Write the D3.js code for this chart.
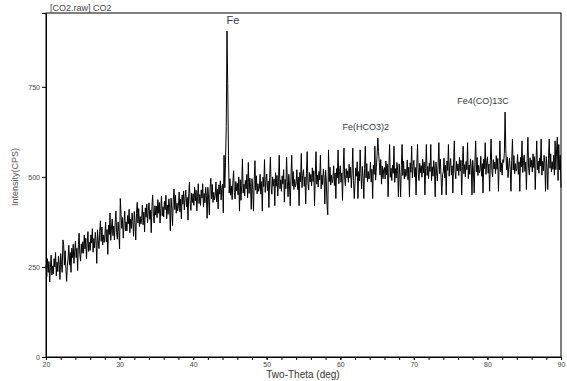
<!DOCTYPE html>
<meta charset="utf-8">
<style>
body { margin: 0; background: #fff; }
text { font-family: "Liberation Sans", Arial, sans-serif; }
.tick text { fill: #444; font-size: 7px; }
.axis path, .axis line { stroke: #000; }
</style>
<body>
<script src="https://d3js.org/d3.v7.min.js"></script>
<script>

// scan starts at 20 deg, one reading every 0.1 deg
var thetaStart = 20,
    thetaStep = 0.1;

// counts, one row per degree
var counts = [
  255,223,273,235,265,208,248,283,228,253,
  230,273,250,290,225,263,237,280,257,215,
  287,257,235,325,312,255,295,245,210,252,
  272,310,255,290,235,302,276,313,260,294,
  322,276,302,240,312,344,284,266,314,288,
  320,288,338,300,330,273,313,348,293,318,
  296,339,316,356,291,329,303,346,323,260,
  353,323,301,348,378,321,361,311,339,318,
  336,374,319,354,285,366,340,400,324,358,
  383,337,363,325,373,405,345,327,375,349,
  300,440,395,357,387,330,370,405,350,375,
  350,393,370,410,345,383,357,400,377,335,
  404,374,325,399,429,372,412,362,390,369,
  384,422,367,402,347,414,388,425,372,406,
  428,382,408,345,418,450,390,372,420,394,
  419,387,437,399,429,372,412,447,392,417,
  389,432,409,449,384,422,396,439,416,350,
  441,411,365,436,466,409,449,399,427,406,
  420,458,403,438,383,450,424,461,408,442,
  463,417,443,380,453,485,425,407,455,429,
  453,421,471,433,463,406,446,481,426,451,
  421,464,441,481,416,454,428,471,448,385,
  471,441,395,466,496,439,479,429,457,436,
  448,486,431,466,411,478,452,489,436,470,
  480,400,560,470,540,640,905,760,560,455,
  495,449,475,437,485,517,457,439,487,461,
  482,450,500,405,492,435,475,550,455,480,
  447,490,467,507,442,540,454,497,474,410,
  495,465,405,490,545,463,503,453,481,460,
  469,507,452,487,405,499,473,548,457,491,
  508,462,488,415,498,555,470,452,500,474,
  494,420,512,474,504,447,487,560,467,492,
  460,503,480,520,430,493,467,555,487,445,
  507,477,420,502,560,475,515,465,493,472,
  482,520,465,500,420,512,486,565,470,504,
  520,474,500,425,510,570,482,464,512,486,
  507,475,525,487,517,420,500,570,480,505,
  472,515,492,560,467,505,479,522,499,425,
  519,489,420,395,575,487,527,477,505,484,
  493,531,476,511,440,523,497,575,481,515,
  531,485,511,435,521,580,493,475,523,497,
  517,485,535,497,527,470,510,580,490,440,
  482,525,502,542,440,515,489,575,509,467,
  529,499,440,524,585,497,537,487,515,494,
  503,541,486,521,440,533,507,585,491,525,
  560,608,570,540,505,548,480,530,495,520,
  526,494,544,506,536,445,519,590,499,524,
  490,533,510,585,485,523,497,540,517,445,
  536,506,445,531,590,504,544,494,522,501,
  509,547,492,527,445,539,513,585,497,531,
  546,500,526,450,536,590,508,490,538,512,
  531,499,549,511,541,450,524,590,504,529,
  495,538,515,590,490,528,502,545,522,445,
  541,511,489,536,595,509,549,499,450,506,
  514,552,497,532,450,544,518,590,502,536,
  551,505,531,455,541,600,513,495,543,517,
  536,504,554,516,546,450,529,585,509,534,
  500,543,520,595,495,533,507,550,527,450,
  546,516,455,541,600,514,554,504,532,511,
  519,557,502,537,455,549,523,595,507,541,
  556,510,536,460,546,605,518,500,548,522,
  541,509,559,521,551,460,534,600,514,539,
  505,548,540,565,680,575,520,555,498,530,
  551,521,460,546,605,519,559,509,537,516,
  524,562,507,542,460,554,528,600,512,546,
  561,515,541,465,551,610,523,505,553,527,
  546,514,564,526,556,465,539,600,519,544,
  510,553,530,605,505,543,517,560,537,460,
  556,526,465,551,605,524,564,514,542,521,
  560,505,600,520,575,610,490,590,520,560,
  470
];

var xTicks = [20, 30, 40, 50, 60, 70, 80, 90];
var yTicks = [0, 250, 500, 750];

var peaks = [
  {name: "Fe", theta: 44.6, at: 905},
  {name: "Fe(HCO3)2", theta: 65.1, at: 608},
  {name: "Fe4(CO)13C", theta: 82.4, at: 680}
];

var margin = {top: 13, right: 6, bottom: 24, left: 46},
    width = 567 - margin.left - margin.right,
    height = 381 - margin.top - margin.bottom;

var svg = d3.select("body").append("svg")
    .attr("width", width + margin.left + margin.right)
    .attr("height", height + margin.top + margin.bottom);

var g = svg.append("g")
    .attr("transform", "translate(" + margin.left + "," + margin.top + ")");

var x = d3.scaleLinear().domain([20, 90]).range([0, width]);
var y = d3.scaleLinear().domain([0, 955]).range([height, 0]);

var data = counts.map(function(c, i) {
    return {theta: thetaStart + i * thetaStep, cps: c};
});

// frame
g.append("rect")
    .attr("width", width)
    .attr("height", height)
    .attr("fill", "none")
    .attr("stroke", "#000")
    .attr("stroke-width", 1);

var line = d3.line()
    .x(function(d) { return x(d.theta); })
    .y(function(d) { return y(d.cps); });

g.append("path")
    .datum(data)
    .attr("fill", "none")
    .attr("stroke", "#000")
    .attr("stroke-width", 1)
    .attr("d", line);

// x axis, minor ticks every 2 deg
g.append("g")
    .attr("class", "axis")
    .attr("transform", "translate(0," + height + ")")
    .call(d3.axisBottom(x).tickValues(d3.range(20, 91, 2)).tickSize(3).tickFormat(""))
    .call(function(s) { s.select(".domain").remove(); });

g.append("g")
    .attr("class", "axis")
    .attr("transform", "translate(0," + height + ")")
    .call(d3.axisBottom(x).tickValues(xTicks).tickSize(3).tickPadding(2).tickFormat(d3.format("d")));

g.append("g")
    .attr("class", "axis")
    .call(d3.axisLeft(y).tickValues(yTicks).tickSize(4).tickPadding(2));

// labels
svg.append("text")
    .attr("x", 303)
    .attr("y", 378)
    .attr("text-anchor", "middle")
    .attr("font-size", 10)
    .attr("fill", "#333")
    .text("Two-Theta (deg)");

svg.append("text")
    .attr("transform", "translate(18,177) rotate(-90)")
    .attr("text-anchor", "middle")
    .attr("font-size", 9)
    .attr("fill", "#555")
    .text("Intensity(CPS)");

svg.append("text")
    .attr("x", 50)
    .attr("y", 11)
    .attr("font-size", 9)
    .attr("fill", "#444")
    .text("[CO2.raw] CO2");

// label nudges so text sits where the original put it
var labelShift = {"Fe": [6, -7], "Fe(HCO3)2": [-12, -8], "Fe4(CO)13C": [-22, -8]};

g.selectAll(".peak")
    .data(peaks)
  .enter().append("text")
    .attr("class", "peak")
    .attr("x", function(d) { return x(d.theta) + labelShift[d.name][0]; })
    .attr("y", function(d) { return y(d.at) + labelShift[d.name][1]; })
    .attr("text-anchor", "middle")
    .attr("font-family", "'Open Sans', sans-serif")
    .attr("font-size", function(d) { return d.name == "Fe" ? 11 : 9; })
    .attr("fill", "#333a44")
    .text(function(d) { return d.name; });

</script>
